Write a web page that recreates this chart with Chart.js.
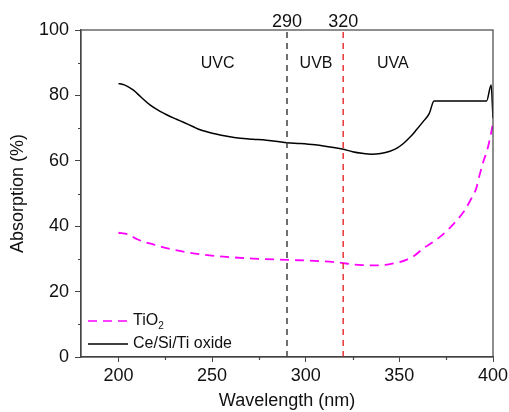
<!DOCTYPE html>
<html>
<head>
<meta charset="utf-8">
<script src="https://cdn.jsdelivr.net/npm/chart.js@4/dist/chart.umd.min.js"></script>
<style>
  html, body { margin:0; padding:0; background:#fff; }
  #wrap { width:509px; height:412px; }
</style>
</head>
<body>
<div id="wrap"><canvas id="absChart" width="509" height="412"></canvas></div>
<script>
// Ce/Si/Ti oxide curve (black)
const ceWl  = [200, 202, 204, 208, 212, 217, 222, 226, 231, 235, 240, 244, 252, 258, 265, 272, 279, 285, 290, 297, 305, 312, 319.5, 325, 330, 335, 340, 345, 348.5, 352, 356, 359, 363, 366, 368.5, 380, 390, 396.6, 399, 400];
const ceAbs = [83.6, 83.4, 83.0, 81.6, 79.5, 77.0, 75.2, 74.0, 72.7, 71.7, 70.4, 69.4, 68.2, 67.5, 66.9, 66.6, 66.3, 65.9, 65.5, 65.3, 64.9, 64.3, 63.6, 62.8, 62.3, 62.0, 62.2, 62.9, 63.8, 65.2, 67.4, 69.4, 72.2, 74.5, 78.3, 78.3, 78.3, 78.3, 83.2, 73.0];

// TiO2 curve (magenta dashed)
const tiWl  = [200, 205, 210, 215, 219, 223, 228, 236, 245, 256, 272, 290, 308, 319, 324, 330, 336, 341, 345, 350, 354, 358, 363, 368, 372, 377, 381, 385, 388, 391, 393, 395, 397, 399, 400];
const tiAbs = [38.0, 37.5, 36.0, 35.0, 34.4, 33.7, 33.0, 32.1, 31.3, 30.7, 30.1, 29.7, 29.3, 28.8, 28.4, 28.1, 28.0, 28.1, 28.4, 29.0, 29.8, 31.0, 33.3, 35.2, 36.9, 39.5, 42.0, 45.0, 48.0, 51.5, 56.0, 60.0, 63.5, 68.5, 71.5];

// UV band boundaries and labels
const bandEdges  = [290, 320];
const bandColors = ['#333333', '#e8262b'];
const bandNames  = ['UVC', 'UVB', 'UVA'];
const bandLabelX = [253, 305.5, 346.5];
const bandLabelY = 90;

const FONT = 'Arial, "Liberation Sans", sans-serif';
const pts = (xs, ys) => xs.map((x, i) => ({ x: x, y: ys[i] }));

// frame, minor ticks, band labels, legend
const extras = {
  id: 'extras',
  afterDraw(chart) {
    const ctx = chart.ctx, a = chart.chartArea;
    const xs = chart.scales.x, ys = chart.scales.y;
    ctx.save();
    ctx.strokeStyle = '#444';
    ctx.lineWidth = 1.2;
    ctx.strokeRect(a.left, a.top, a.right - a.left, a.bottom - a.top);
    // minor ticks
    ctx.beginPath();
    [225, 275, 325, 375].forEach(v => {
      const px = Math.round(xs.getPixelForValue(v)) + 0.5;
      ctx.moveTo(px, a.bottom); ctx.lineTo(px, a.bottom + 3);
    });
    [10, 30, 50, 70, 90].forEach(v => {
      const py = Math.round(ys.getPixelForValue(v)) + 0.5;
      ctx.moveTo(a.left, py); ctx.lineTo(a.left - 3, py);
    });
    ctx.stroke();
    // band names
    ctx.fillStyle = '#111';
    ctx.font = '16px ' + FONT;
    ctx.textAlign = 'center';
    ctx.textBaseline = 'middle';
    bandNames.forEach((n, i) => {
      ctx.fillText(n, xs.getPixelForValue(bandLabelX[i]), ys.getPixelForValue(bandLabelY) + 1);
    });
    // legend
    const lx = a.left + 7, ly1 = 321, ly2 = 344;
    ctx.lineWidth = 1.6;
    ctx.strokeStyle = '#ff00ff';
    ctx.setLineDash([9, 6]);
    ctx.beginPath(); ctx.moveTo(lx, ly1); ctx.lineTo(lx + 42, ly1); ctx.stroke();
    ctx.setLineDash([]);
    ctx.strokeStyle = '#000';
    ctx.beginPath(); ctx.moveTo(lx, ly2); ctx.lineTo(lx + 40, ly2); ctx.stroke();
    ctx.textAlign = 'left';
    ctx.font = '16px ' + FONT;
    ctx.fillText('TiO', lx + 45, ly1);
    const w = ctx.measureText('TiO').width;
    ctx.font = '10px ' + FONT;
    ctx.fillText('2', lx + 45 + w, ly1 + 5);
    ctx.font = '16px ' + FONT;
    ctx.fillText('Ce/Si/Ti oxide', lx + 45, ly2);
    ctx.restore();
  }
};

const bandSets = bandEdges.map((v, i) => ({
  label: 'edge' + v,
  data: [{ x: v, y: 0 }, { x: v, y: 100 }],
  borderColor: bandColors[i],
  borderWidth: 1.4,
  borderDash: [6, 5],
  pointRadius: 0,
  showLine: true
}));

new Chart(document.getElementById('absChart').getContext('2d'), {
  type: 'scatter',
  data: {
    datasets: [
      ...bandSets,
      { label: 'TiO2', data: pts(tiWl, tiAbs), borderColor: '#ff00ff', borderWidth: 1.8,
        borderDash: [9, 6], pointRadius: 0, showLine: true, cubicInterpolationMode: 'monotone' },
      { label: 'Ce/Si/Ti oxide', data: pts(ceWl, ceAbs), borderColor: '#000', borderWidth: 1.5,
        pointRadius: 0, showLine: true, cubicInterpolationMode: 'monotone' }
    ]
  },
  options: {
    animation: false,
    responsive: false,
    layout: { padding: { left: 0, right: 16, top: 0, bottom: 0 } },
    plugins: { legend: { display: false }, tooltip: { enabled: false } },
    scales: {
      x: {
        type: 'linear', position: 'bottom', min: 180, max: 400,
        afterBuildTicks: s => { s.ticks = [200, 250, 300, 350, 400].map(v => ({ value: v })); },
        afterFit: s => { s.height = 55; s.paddingRight = 0; },
        grid: { drawOnChartArea: false, tickLength: 5, color: '#444' },
        border: { color: '#444', width: 1.2 },
        ticks: { color: '#111', font: { size: 18, family: FONT }, padding: 3, maxRotation: 0 },
        title: { display: true, text: 'Wavelength (nm)', color: '#111', font: { size: 18, family: FONT }, padding: 0 }
      },
      x2: {
        type: 'linear', position: 'top', min: 180, max: 400,
        afterBuildTicks: s => { s.ticks = bandEdges.map(v => ({ value: v })); },
        afterFit: s => { s.height = 30; s.paddingRight = 0; },
        grid: { display: false, drawTicks: false },
        border: { display: false },
        ticks: { color: '#111', font: { size: 18, family: FONT }, padding: -3, maxRotation: 0 }
      },
      y: {
        min: 0, max: 100,
        afterBuildTicks: s => { s.ticks = [0, 20, 40, 60, 80, 100].map(v => ({ value: v })); },
        afterFit: s => { s.width = 81; },
        grid: { drawOnChartArea: false, tickLength: 6, color: '#444' },
        border: { color: '#444', width: 1.2 },
        ticks: { color: '#111', font: { size: 18, family: FONT }, padding: 6 },
        title: { display: true, text: 'Absorption (%)', color: '#111', font: { size: 18, family: FONT }, padding: { top: 7, bottom: 0 } }
      }
    }
  },
  plugins: [extras]
});
</script>
</body>
</html>
